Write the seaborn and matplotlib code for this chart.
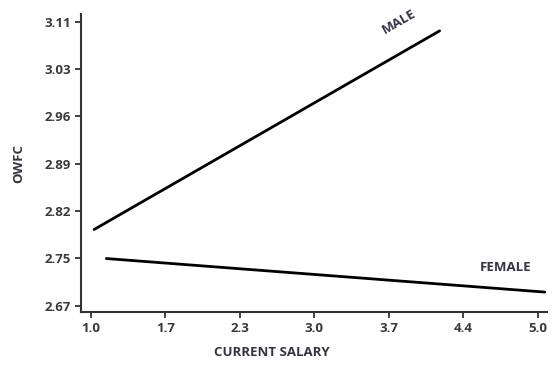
import matplotlib
matplotlib.use("Agg")
import matplotlib.pyplot as plt
import seaborn as sns
import pandas as pd
import numpy as np

# data
groups = ["MALE", "MALE", "FEMALE", "FEMALE"]
salary = [1.03, 4.12, 1.14, 5.06]
owfc = [2.788, 3.096, 2.743, 2.691]
x_tick_labels = ["1.0", "1.7", "2.3", "3.0", "3.7", "4.4", "5.0"]
y_tick_labels = ["2.67", "2.75", "2.82", "2.89", "2.96", "3.03", "3.11"]

df = pd.DataFrame({"group": groups, "salary": salary, "owfc": owfc})

sns.set_theme(style="ticks")
plt.rcParams["font.family"] = ["Open Sans", "DejaVu Sans"]

fig = plt.figure(figsize=(5.57, 3.65), dpi=100)
ax = fig.add_axes([0.1454, 0.145, 0.8366, 0.8164])

sns.lineplot(data=df, x="salary", y="owfc", hue="group",
             palette={"MALE": "black", "FEMALE": "black"},
             linewidth=2.0, legend=False, ax=ax, estimator=None)

ax.set_xlim(0.913, 5.08)
ax.set_ylim(2.660, 3.122)

xt = np.linspace(1.0, 5.0, len(x_tick_labels))
yt = np.linspace(2.67, 3.11, len(y_tick_labels))
ax.set_xticks(xt)
ax.set_xticklabels(x_tick_labels)
ax.set_yticks(yt)
ax.set_yticklabels(y_tick_labels)

for s in ["top", "right"]:
    ax.spines[s].set_visible(False)
for s in ["left", "bottom"]:
    ax.spines[s].set_linewidth(1.5)
    ax.spines[s].set_color("#333333")

ax.tick_params(axis="both", length=4, width=1.3, color="#333333",
               labelsize=9.5, labelcolor="#3a3a3a", pad=3)
for lab in ax.get_xticklabels() + ax.get_yticklabels():
    lab.set_fontweight("bold")

ax.set_xlabel("CURRENT SALARY", fontsize=9.5, fontweight="bold", color="#333344")
ax.set_ylabel("OWFC", fontsize=9.5, fontweight="bold", color="#333344")
ax.xaxis.set_label_coords(0.41, -0.114)
ax.yaxis.set_label_coords(-0.12, 0.5)

ax.text(3.758, 3.11, "MALE", rotation=30, fontsize=9.5, fontweight="bold",
        color="#333344", ha="center", va="center")
ax.text(4.706, 2.729, "FEMALE", fontsize=9.5, fontweight="bold",
        color="#333344", ha="center", va="center")

fig.savefig("out.png", dpi=100)
